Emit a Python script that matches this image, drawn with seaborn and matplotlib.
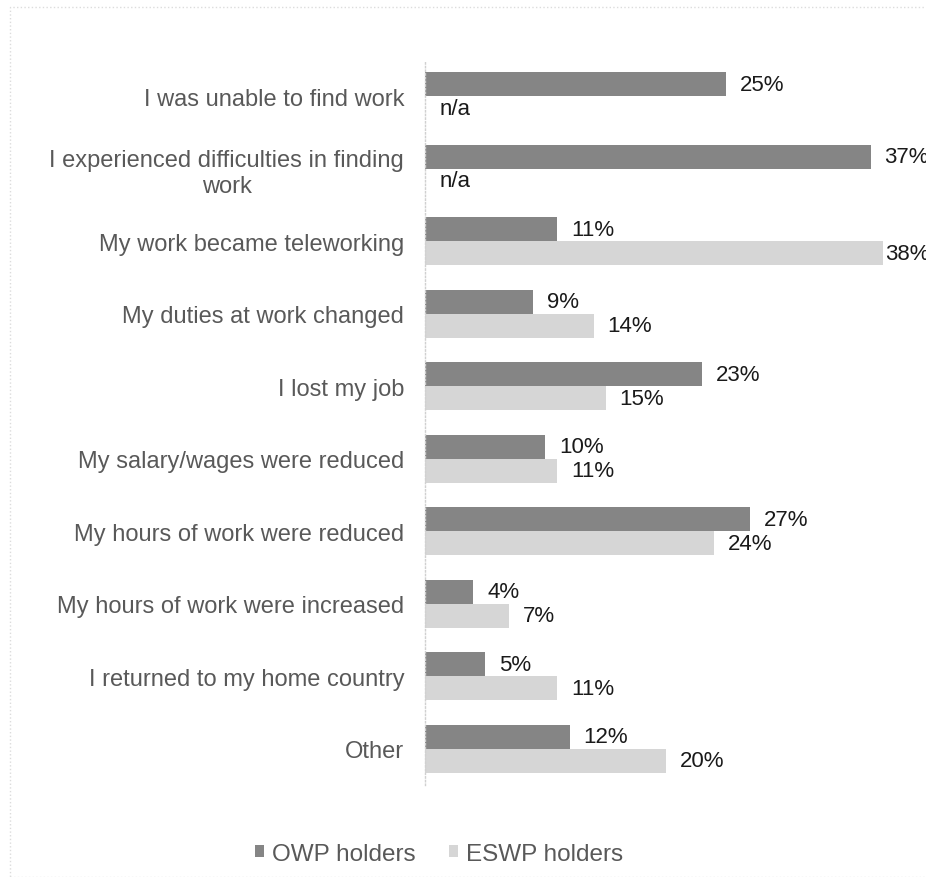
import seaborn as sns
import matplotlib.pyplot as plt
import matplotlib.patches as mpatches
import numpy as np
import pandas as pd

categories = [
    "I was unable to find work",
    "I experienced difficulties in finding\nwork",
    "My work became teleworking",
    "My duties at work changed",
    "I lost my job",
    "My salary/wages were reduced",
    "My hours of work were reduced",
    "My hours of work were increased",
    "I returned to my home country",
    "Other",
]
owp_values = [25, 37, 11, 9, 23, 10, 27, 4, 5, 12]
eswp_values = [np.nan, np.nan, 38, 14, 15, 11, 24, 7, 11, 20]
series_names = ["OWP holders", "ESWP holders"]
series_colors = ["#858585", "#d6d6d6"]

df = pd.DataFrame({
    "category": categories * 2,
    "value": owp_values + eswp_values,
    "series": [series_names[0]] * len(categories) + [series_names[1]] * len(categories),
})

sns.set_style("white")
plt.rcParams["font.family"] = ["Liberation Sans", "DejaVu Sans"]

fig = plt.figure(figsize=(9.26, 8.78), dpi=100)
ax = fig.add_axes([425 / 926, 1 - 786 / 878, 501 / 926, (786 - 61) / 878])

sns.barplot(data=df, y="category", x="value", hue="series", orient="h",
            palette=series_colors, width=0.66, order=categories,
            hue_order=series_names, legend=False, ax=ax, edgecolor="none")

ax.set_xlim(0, 41.6)
ax.set_ylim(len(categories) - 0.5, -0.5)
ax.set_xlabel("")
ax.set_ylabel("")
ax.set_xticks([])
ax.tick_params(axis="y", length=0, pad=15, labelsize=17, labelcolor="#595959")
for lbl in ax.get_yticklabels():
    lbl.set_multialignment("center")

for s in ["top", "right", "bottom"]:
    ax.spines[s].set_visible(False)
ax.spines["left"].set_color("#d0d0d0")
ax.spines["left"].set_linestyle(":")
ax.spines["left"].set_linewidth(1)

# value labels (pulled in a little near the right edge, as in the original)
for container in ax.containers:
    for bar in container:
        w = bar.get_width()
        if np.isnan(w) or w == 0:
            continue
        ax.text(min(w + 1.15, 38.2), bar.get_y() + bar.get_height() / 2, f"{w:.0f}%",
                va="center", ha="left", fontsize=16, color="#1a1a1a")

# n/a labels where ESWP missing
for bar, v in zip(ax.containers[0], eswp_values):
    if np.isnan(v):
        ax.text(1.2, bar.get_y() + bar.get_height() * 1.5, "n/a",
                va="center", ha="left", fontsize=16, color="#1a1a1a")

handles = [mpatches.Patch(facecolor=c, edgecolor="none") for c in series_colors]
fig.legend(handles, series_names, loc="center", bbox_to_anchor=(439 / 926, 1 - 855 / 878),
           ncol=2, frameon=False, fontsize=17.5, handlelength=0.37, handleheight=0.37,
           handletextpad=0.33, columnspacing=1.35, labelcolor="#595959")

# faint outer border
fig.patches.append(mpatches.Rectangle((10 / 926, 0), 1, 1 - 8 / 878, transform=fig.transFigure,
                                      fill=False, edgecolor="#dcdcdc", linestyle=":", linewidth=1))

fig.savefig("out.png", dpi=100)
